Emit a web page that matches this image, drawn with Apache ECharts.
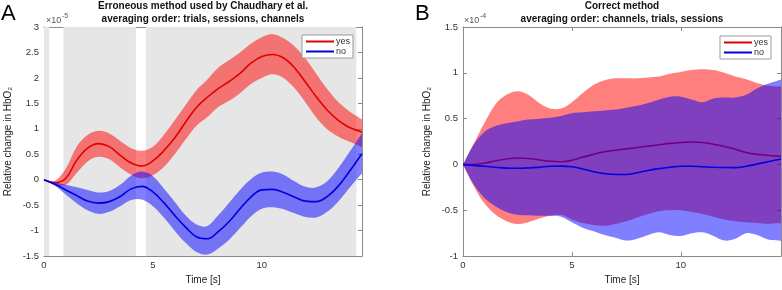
<!DOCTYPE html>
<html>
<head>
<meta charset="utf-8">
<script src="https://cdn.jsdelivr.net/npm/echarts@6/dist/echarts.min.js"></script>
<style>
  html, body { margin: 0; padding: 0; background: #fff; }
  #chart { width: 782px; height: 290px; }
</style>
</head>
<body>
<div id="chart"></div>
<script>
// time axis, seconds
const time = [0, 0.5, 1, 1.5, 2, 2.5, 3, 3.5, 4, 4.5, 5, 5.5, 6, 6.5, 7, 7.5, 8, 8.5, 9, 9.5, 10, 10.5, 11, 11.5, 12, 12.5, 13, 13.5, 14, 14.5, 14.6]

// panel A, values in 1e-5
const aYesMean = [0, -0.06, 0.03, 0.38, 0.62, 0.71, 0.65, 0.48, 0.33, 0.27, 0.37, 0.57, 0.82, 1.13, 1.42, 1.62, 1.79, 1.93, 2.09, 2.29, 2.42, 2.46, 2.39, 2.2, 1.92, 1.63, 1.37, 1.17, 1.03, 0.95, 0.93]
const aYesHigh = [0, -0.02, 0.22, 0.65, 0.88, 0.96, 0.91, 0.76, 0.62, 0.57, 0.65, 0.88, 1.17, 1.47, 1.76, 1.97, 2.2, 2.35, 2.5, 2.67, 2.8, 2.86, 2.78, 2.62, 2.38, 2.08, 1.78, 1.53, 1.35, 1.21, 1.18]
const aYesLow = [0, -0.1, -0.1, 0.13, 0.36, 0.45, 0.4, 0.24, 0.1, 0.03, 0.09, 0.25, 0.5, 0.79, 1.06, 1.23, 1.43, 1.55, 1.7, 1.88, 2.0, 2.07, 2.0, 1.8, 1.52, 1.22, 0.99, 0.85, 0.75, 0.66, 0.64]
const aNoMean = [0, -0.09, -0.2, -0.31, -0.42, -0.46, -0.43, -0.33, -0.18, -0.13, -0.24, -0.45, -0.7, -0.93, -1.12, -1.16, -1.02, -0.82, -0.57, -0.34, -0.2, -0.19, -0.25, -0.34, -0.42, -0.43, -0.33, -0.13, 0.15, 0.45, 0.51]
const aNoHigh = [0, -0.05, -0.1, -0.15, -0.2, -0.25, -0.22, -0.1, 0.08, 0.16, 0.07, -0.17, -0.43, -0.7, -0.88, -0.91, -0.7, -0.45, -0.2, 0.01, 0.14, 0.16, 0.1, -0.03, -0.14, -0.15, -0.03, 0.22, 0.53, 0.85, 0.9]
const aNoLow = [0, -0.12, -0.29, -0.46, -0.6, -0.67, -0.63, -0.52, -0.4, -0.39, -0.52, -0.74, -1.0, -1.24, -1.42, -1.47, -1.35, -1.18, -0.95, -0.72, -0.57, -0.54, -0.58, -0.66, -0.73, -0.74, -0.63, -0.43, -0.17, 0.08, 0.13]

// gray shaded intervals in panel A (s)
const shadeFrom = [0, 0.89, 4.68]
const shadeTo = [0.24, 4.22, 14.34]

// panel B, values in 1e-4
const bYesMean = [0, 0, 0.015, 0.04, 0.06, 0.07, 0.065, 0.05, 0.035, 0.03, 0.045, 0.08, 0.11, 0.14, 0.155, 0.17, 0.185, 0.2, 0.215, 0.23, 0.24, 0.245, 0.24, 0.22, 0.195, 0.165, 0.13, 0.11, 0.1, 0.09, 0.09]
const bYesHigh = [0, 0.23, 0.46, 0.66, 0.76, 0.8, 0.76, 0.67, 0.61, 0.61, 0.68, 0.78, 0.87, 0.92, 0.94, 0.94, 0.94, 0.95, 0.96, 0.99, 1.01, 1.03, 1.04, 1.03, 1.0, 0.96, 0.93, 0.89, 0.86, 0.85, 0.85]
const bYesLow = [0, -0.24, -0.43, -0.55, -0.62, -0.65, -0.63, -0.59, -0.56, -0.55, -0.6, -0.64, -0.66, -0.67, -0.65, -0.62, -0.58, -0.54, -0.51, -0.5, -0.5, -0.52, -0.54, -0.57, -0.6, -0.62, -0.63, -0.64, -0.65, -0.64, -0.64]
const bNoMean = [0, -0.01, -0.02, -0.03, -0.04, -0.042, -0.038, -0.03, -0.02, -0.018, -0.025, -0.05, -0.08, -0.1, -0.11, -0.11, -0.09, -0.065, -0.045, -0.03, -0.02, -0.02, -0.025, -0.03, -0.033, -0.035, -0.02, 0.005, 0.03, 0.055, 0.06]
const bNoHigh = [0, 0.22, 0.36, 0.42, 0.45, 0.47, 0.49, 0.5, 0.51, 0.53, 0.56, 0.57, 0.58, 0.59, 0.6, 0.62, 0.64, 0.67, 0.71, 0.74, 0.74, 0.71, 0.68, 0.72, 0.73, 0.73, 0.76, 0.83, 0.88, 0.92, 0.92]
const bNoLow = [0, -0.22, -0.37, -0.46, -0.52, -0.55, -0.555, -0.56, -0.56, -0.57, -0.63, -0.69, -0.73, -0.77, -0.8, -0.83, -0.81, -0.77, -0.74, -0.77, -0.78, -0.75, -0.74, -0.78, -0.83, -0.81, -0.75, -0.77, -0.82, -0.83, -0.83]

const RED = '#e00000'
const BLUE = '#0000e0'
const RED_BAND = 'rgba(255,0,0,0.5)'
const BLUE_BAND = 'rgba(0,0,255,0.5)'
const AXIS = '#8a8a8a'
const TXT = '#333'
const FONT = 'Liberation Sans, Arial, sans-serif'

const pairs = ys => time.map((t, i) => [t, ys[i]])

// shaded band: one polygon, upper edge forward then lower edge back
function band(key, low, high, color, ax, z) {
  return {
    name: key, type: 'custom', xAxisIndex: ax, yAxisIndex: ax, z: z,
    data: time.map((t, i) => [t, low[i], high[i]]),
    encode: { x: 0, y: [1, 2] },
    silent: true, clip: true,
    renderItem: function (params, api) {
      if (params.dataIndexInside !== 0) return null
      const n = params.dataInsideLength
      const up = [], lo = []
      for (let i = 0; i < n; i++) {
        up.push(api.coord([api.value(0, i), api.value(2, i)]))
        lo.push(api.coord([api.value(0, i), api.value(1, i)]))
      }
      return {
        type: 'polygon',
        shape: { points: up.concat(lo.reverse()), smooth: 0.35 },
        style: { fill: color, stroke: null }
      }
    }
  }
}

function meanLine(name, ys, color, ax, z) {
  return {
    name: name, type: 'line', xAxisIndex: ax, yAxisIndex: ax, z: z,
    data: pairs(ys), smooth: 0.4, symbol: 'none', silent: true,
    itemStyle: { color: color },
    lineStyle: { color: color, width: 1.6 }
  }
}

function xAx(grid, top) {
  return {
    type: 'value', gridIndex: grid, min: 0, max: 14.6, interval: 5,
    position: top ? 'top' : 'bottom',
    name: top ? '' : 'Time [s]', nameLocation: 'middle', nameGap: 18,
    nameTextStyle: { fontSize: 10, color: '#222', fontFamily: FONT },
    axisLine: { show: true, onZero: false, lineStyle: { color: AXIS, width: 1 } },
    axisTick: { show: true, inside: true, length: 4, lineStyle: { color: AXIS } },
    axisLabel: { show: !top, fontSize: 9.5, color: TXT, margin: 4, fontFamily: FONT, showMaxLabel: false },
    splitLine: { show: false }
  }
}

function yAx(grid, right, min, max) {
  return {
    type: 'value', gridIndex: grid, min: min, max: max, interval: 0.5,
    position: right ? 'right' : 'left',
    name: right ? '' : 'Relative change in HbO₂', nameLocation: 'middle', nameGap: 31,
    nameTextStyle: { fontSize: 10, color: '#222', fontFamily: FONT },
    axisLine: { show: true, onZero: false, lineStyle: { color: AXIS, width: 1 } },
    axisTick: { show: true, inside: true, length: 4, lineStyle: { color: AXIS } },
    axisLabel: { show: !right, fontSize: 9.5, color: TXT, margin: 5, fontFamily: FONT },
    splitLine: { show: false }
  }
}

function legendAt(left, top) {
  return {
    data: ['yes', 'no'], left: left, top: top, orient: 'vertical',
    icon: 'rect', itemWidth: 28, itemHeight: 2, itemGap: 1,
    padding: [2, 3, 2, 4], borderColor: '#9a9a9a', borderWidth: 1, borderRadius: 0,
    backgroundColor: '#fff', selectedMode: false, z: 20,
    textStyle: { fontSize: 9, color: TXT, fontFamily: FONT, padding: [0, 0, 0, -3] }
  }
}

const chart = echarts.init(document.getElementById('chart'), null, { renderer: 'canvas' })

const shadeSeries = {
  name: 'shade', type: 'line', xAxisIndex: 0, yAxisIndex: 0, data: [], silent: true, z: 1,
  markArea: {
    silent: true,
    itemStyle: { color: '#e6e6e6' },
    data: shadeFrom.map((f, i) => [{ xAxis: f }, { xAxis: shadeTo[i] }])
  }
}

const option = {
  animation: false,
  textStyle: { fontFamily: FONT },
  title: [
    {
      text: 'Erroneous method used by Chaudhary et al.\naveraging order: trials, sessions, channels',
      left: 203, top: 0, textAlign: 'center', padding: 0,
      textStyle: { fontSize: 10, fontWeight: 'bold', color: '#111', lineHeight: 13, fontFamily: FONT }
    },
    {
      text: 'Correct method\naveraging order: channels, trials, sessions',
      left: 622, top: 0, textAlign: 'center', padding: 0,
      textStyle: { fontSize: 10, fontWeight: 'bold', color: '#111', lineHeight: 13, fontFamily: FONT }
    }
  ],
  legend: [legendAt(302, 35), legendAt(720, 36)],
  grid: [
    { left: 44, top: 27, width: 318, height: 235 },
    { left: 463, top: 27, width: 318, height: 235 }
  ],
  xAxis: [xAx(0, false), xAx(0, true), xAx(1, false), xAx(1, true)],
  yAxis: [yAx(0, false, -1.5, 3), yAx(0, true, -1.5, 3), yAx(1, false, -1, 1.5), yAx(1, true, -1, 1.5)],
  graphic: [
    { type: 'text', left: 1, top: 3, style: { text: 'A', fill: '#000', font: '22px ' + FONT } },
    { type: 'text', left: 415, top: 3, style: { text: 'B', fill: '#000', font: '22px ' + FONT } },
    { type: 'text', left: 46, top: 16, style: { text: '×10', fill: '#555', font: '9px ' + FONT } },
    { type: 'text', left: 62, top: 13, style: { text: '-5', fill: '#555', font: '7px ' + FONT } },
    { type: 'text', left: 464, top: 16, style: { text: '×10', fill: '#555', font: '9px ' + FONT } },
    { type: 'text', left: 480, top: 13, style: { text: '-4', fill: '#555', font: '7px ' + FONT } }
  ],
  // draw order as in the original: red band, red line, blue band, blue line
  series: [
    shadeSeries,
    band('ayes band', aYesLow, aYesHigh, RED_BAND, 0, 2),
    meanLine('yes', aYesMean, RED, 0, 3),
    band('ano band', aNoLow, aNoHigh, BLUE_BAND, 0, 4),
    meanLine('no', aNoMean, BLUE, 0, 5),
    band('byes band', bYesLow, bYesHigh, RED_BAND, 2, 2),
    meanLine('yes', bYesMean, RED, 2, 3),
    band('bno band', bNoLow, bNoHigh, BLUE_BAND, 2, 4),
    meanLine('no', bNoMean, BLUE, 2, 5)
  ]
}

chart.setOption(option)
</script>
</body>
</html>
